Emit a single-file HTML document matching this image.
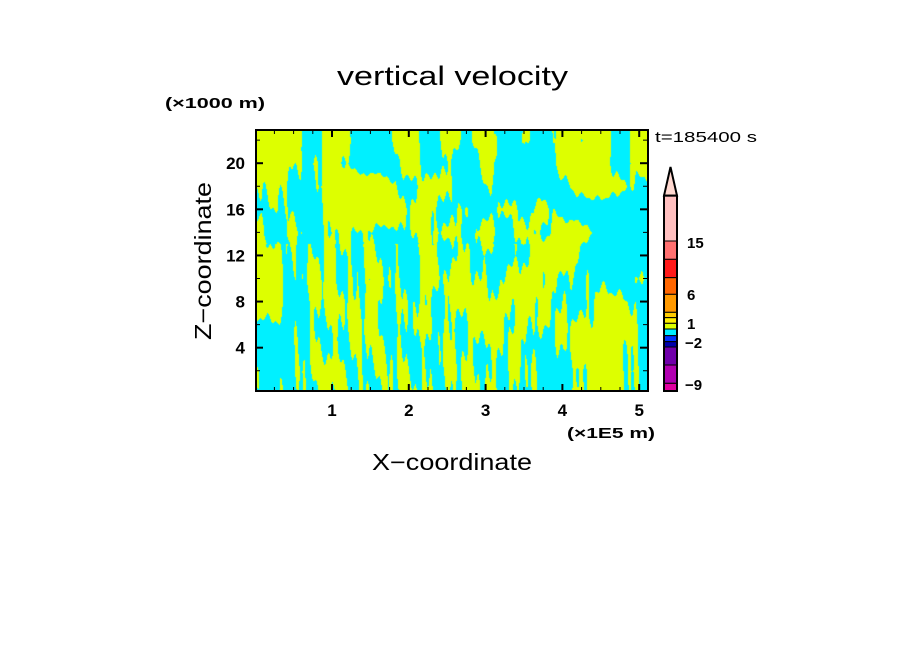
<!DOCTYPE html>
<html><head><meta charset="utf-8"><style>
body{margin:0;background:#fff;width:904px;height:654px;overflow:hidden;position:relative;font-family:"Liberation Sans","DejaVu Sans",sans-serif}
svg{position:absolute;left:0;top:0}
canvas{position:absolute;left:256px;top:131px}
</style></head><body>
<canvas id="field" width="392" height="260"></canvas>
<svg id="chart" width="904" height="654"></svg>
<script>
// grid of field values (0-9, 5 = threshold), rows z=22..0 step 2, cols x=0..5 step 0.25
const gridRows = [
"776465356464735375737".split('').map(Number),
"765564346453634367736".split('').map(Number),
"564477764653543446764".split('').map(Number),
"455367775645464643334".split('').map(Number),
"636455545564646477333".split('').map(Number),
"764564554546435774333".split('').map(Number),
"774655554656556654435".split('').map(Number),
"774565645556666554664".split('').map(Number),
"444555645555656556674".split('').map(Number),
"344555555455555456764".split('').map(Number),
"445565555555555445765".split('').map(Number),
"445555555555555446655".split('').map(Number)
];
const xTicks = [1,2,3,4,5];
const zTicks = [4,8,12,16,20];
const cbLabels = ["15","6","1","\u22122","\u22129"];
const cbColors = ["#ffbfbf","#ff7070","#ff1a1a","#ff6600","#ff9900","#ffcc00","#ffee00","#ddff00","#00eeff","#0033ff","#0000aa","#7000aa","#b000b0","#e000a0"];
const cbBounds = [212,348,403,458,508,562,578,595,612,632,650,666,720,775,798];

const X0=255.2, XS=76.8, Z0=393.8, ZS=11.53;
const L=256,R=647,T=131,B=391;
const sx = v => X0 + v*XS;
const sz = v => Z0 - v*ZS;

const cv=document.getElementById('field'), ctx=cv.getContext('2d');
const img=ctx.createImageData(cv.width,cv.height);
const nr=gridRows.length, nc=gridRows[0].length;
for(let py=0;py<cv.height;py++){
  const z=(Z0-(py+T))/ZS;
  const gr=Math.min(nr-1.001,Math.max(0,(22-z)/2));
  const r0=Math.floor(gr), fr=gr-r0;
  for(let px=0;px<cv.width;px++){
    const x=(px+L-X0)/XS;
    const gc=Math.min(nc-1.001,Math.max(0,x/0.25));
    const c0=Math.floor(gc), fc=gc-c0;
    const v=(gridRows[r0][c0]*(1-fc)+gridRows[r0][c0+1]*fc)*(1-fr)+(gridRows[r0+1][c0]*(1-fc)+gridRows[r0+1][c0+1]*fc)*fr;
    const streak=0.5*Math.sin(x*23+z*0.5*Math.sin(x*1.3)+Math.sin(z*0.4))+0.35*Math.sin(x*61+z*0.2)+0.35*Math.sin(z*0.9+x*7);
    const yel=(v+streak*(z<13?1.1:0.6))>5;
    const i=(py*cv.width+px)*4;
    if(yel){img.data[i]=221;img.data[i+1]=255;img.data[i+2]=0;}
    else{img.data[i]=0;img.data[i+1]=240;img.data[i+2]=255;}
    img.data[i+3]=255;
  }
}
ctx.putImageData(img,0,0);

const svg=document.getElementById('chart');
const NS='http://www.w3.org/2000/svg';
function mk(tag,attrs,txt){const e=document.createElementNS(NS,tag);for(const k in attrs)e.setAttribute(k,attrs[k]);if(txt!==undefined)e.textContent=txt;svg.appendChild(e);return e;}

let e;
e=mk('rect',{x:L,y:T-1,width:R-L+1,height:B-T+1,fill:'none',stroke:'#000','stroke-width':2});



for(let v=0.25;v<5.2;v+=0.25){
  const major=Math.abs(v-Math.round(v))<1e-6;
  const len=major?7:4;
  e=mk('line',{x1:sx(v),x2:sx(v),y1:B,y2:B-len,stroke:'#000','stroke-width':major?2:1});
  
  
  e=mk('line',{x1:sx(v),x2:sx(v),y1:T-1,y2:T-1+len,stroke:'#000','stroke-width':major?2:1});
  
  
}
xTicks.forEach(v=>{
  e=mk('text',{x:sx(v),y:416,'text-anchor':'middle','font-size':17,'font-weight':'bold',fill:'#000'},String(v));
  
  
});
for(let v=2;v<=22;v+=2){
  const major=v%4===0;
  const len=major?7:4;
  e=mk('line',{x1:L,x2:L+len,y1:sz(v),y2:sz(v),stroke:'#000','stroke-width':major?2:1});
  
  
  e=mk('line',{x1:R,x2:R-len,y1:sz(v),y2:sz(v),stroke:'#000','stroke-width':major?2:1});
  
  
}
zTicks.forEach(v=>{
  e=mk('text',{x:245,y:sz(v)+6,'text-anchor':'end','font-size':17,'font-weight':'bold',fill:'#000'},String(v));
  
  
});

const SG='spacingAndGlyphs';
e=mk('text',{x:337,y:85,'font-size':27,fill:'#000',textLength:231,lengthAdjust:SG},'vertical velocity');


e=mk('text',{x:165,y:108,'font-size':15,'font-weight':'bold',fill:'#000',textLength:100,lengthAdjust:SG},'(\u00d71000 m)');


e=mk('text',{x:567,y:438,'font-size':15,'font-weight':'bold',fill:'#000',textLength:88,lengthAdjust:SG},'(\u00d71E5 m)');


e=mk('text',{x:372,y:470,'font-size':23,fill:'#000',textLength:160,lengthAdjust:SG},'X\u2212coordinate');


e=mk('text',{x:0,y:0,'font-size':23,fill:'#000',textLength:158,lengthAdjust:SG,transform:'translate(211 340) rotate(-90)'},'Z\u2212coordinate');


e=mk('text',{x:655,y:142,'font-size':15,fill:'#000',textLength:102,lengthAdjust:SG},'t=185400 s');



const cy = v => 125 + v/3;
e=mk('polygon',{points:`664,${cy(212)} 670.5,167 677,${cy(212)}`,fill:'#ffd8d0',stroke:'#000','stroke-width':2});


cbColors.forEach((c,i)=>{
  e=mk('rect',{x:664,y:cy(cbBounds[i]),width:13,height:cy(cbBounds[i+1])-cy(cbBounds[i]),fill:c,stroke:'#000','stroke-width':1});
  
  
});
e=mk('rect',{x:664,y:cy(212),width:13,height:cy(798)-cy(212),fill:'none',stroke:'#000','stroke-width':2});


const cbLabelY=[248,300,329,348,390];
cbLabels.forEach((t,i)=>{
  e=mk('text',{x:t.startsWith('\u2212')?685:687,y:cbLabelY[i],'font-size':15,'font-weight':'bold',fill:'#000'},t);
  
  
});
</script>
</body></html>
